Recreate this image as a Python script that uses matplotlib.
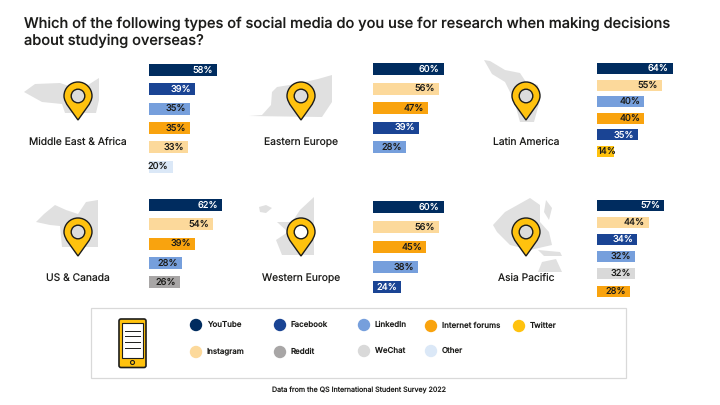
import matplotlib
matplotlib.use('Agg')
import matplotlib.pyplot as plt
from matplotlib.patches import Circle, Polygon, Rectangle, FancyBboxPatch, PathPatch
from matplotlib.path import Path

plt.rcParams['font.family'] = ['Inter', 'DejaVu Sans']
plt.rcParams['text.hinting'] = 'none'

W, H = 720, 405
DARK = '#1d1d1b'

COLORS = {'YouTube': '#002c5f', 'Facebook': '#1a4494', 'LinkedIn': '#769fdc',
          'Internet forums': '#f9a30e', 'Twitter': '#ffc20e', 'Instagram': '#fcd99b',
          'Reddit': '#a8a6a6', 'WeChat': '#d9d9d9', 'Other': '#dbe8f7'}

# data per region
mea_cats = ['YouTube', 'Facebook', 'LinkedIn', 'Internet forums', 'Instagram', 'Other']
mea_vals = [58, 39, 35, 35, 33, 20]
ee_cats = ['YouTube', 'Instagram', 'Internet forums', 'Facebook', 'LinkedIn']
ee_vals = [60, 56, 47, 39, 28]
la_cats = ['YouTube', 'Instagram', 'LinkedIn', 'Internet forums', 'Facebook', 'Twitter']
la_vals = [64, 55, 40, 40, 35, 14]
us_cats = ['YouTube', 'Instagram', 'Internet forums', 'LinkedIn', 'Reddit']
us_vals = [62, 54, 39, 28, 26]
we_cats = ['YouTube', 'Instagram', 'Internet forums', 'LinkedIn', 'Facebook']
we_vals = [60, 56, 45, 38, 24]
ap_cats = ['YouTube', 'Instagram', 'Facebook', 'LinkedIn', 'WeChat', 'Internet forums']
ap_vals = [57, 44, 34, 32, 32, 28]

# name, cats, vals, bar x0, first centre, spacing, bar height, pin x, pin top, inner colour
panels = [
    ('Middle East & Africa', mea_cats, mea_vals, 149, 70, 19.3, 12, 78, 82, '#dcdcdc'),
    ('Eastern Europe', ee_cats, ee_vals, 373, 69, 19.5, 12, 301, 82, '#dcdcdc'),
    ('Latin America', la_cats, la_vals, 597, 68.5, 16.6, 11, 526, 82, '#dcdcdc'),
    ('US & Canada', us_cats, us_vals, 149, 205, 19.3, 12, 78, 218, '#dcdcdc'),
    ('Western Europe', we_cats, we_vals, 373, 207, 20, 12, 301, 218, '#ffffff'),
    ('Asia Pacific', ap_cats, ap_vals, 597, 205, 17.2, 11, 526, 218, '#dcdcdc'),
]

# rough grey map silhouettes
maps = [
    [(24, 92), (35, 84), (60, 83), (72, 87), (88, 85), (99, 78), (99, 100), (96, 113), (65, 113), (62, 104), (42, 102)],
    [(249, 116), (262, 115), (271, 105), (272, 92), (277, 87), (296, 84), (318, 79), (332, 75), (332, 102), (322, 117)],
    [(484, 60), (490, 61), (505, 70), (520, 73), (526, 82), (538, 85), (540, 100), (534, 122), (520, 122), (514, 100), (505, 82), (492, 74)],
    [(36, 222), (44, 214), (55, 205), (66, 210), (78, 214), (86, 202), (98, 200), (98, 247), (62, 247), (60, 226), (50, 225)],
    [(277, 222), (292, 222), (300, 210), (314, 197), (314, 255), (282, 255), (276, 240), (288, 232)],
    [(259, 207), (266, 205), (272, 208), (266, 213), (260, 212)],
    [(493, 225), (505, 212), (530, 198), (540, 205), (540, 222), (549, 232), (552, 245), (530, 250), (510, 245), (497, 232)],
    [(546, 200), (552, 208), (549, 220), (544, 212)],
    [(538, 250), (560, 252), (562, 256), (544, 256)],
    [(542, 262), (556, 259), (562, 272), (538, 272)],
]

fig = plt.figure(figsize=(W / 100, H / 100), dpi=100)
bg = fig.add_axes([0, 0, 1, 1])
bg.set_xlim(0, W)
bg.set_ylim(H, 0)
bg.axis('off')

bg.text(24, 23.5, 'Which of the following types of social media do you use for research when making decisions',
        fontsize=10.5, weight='medium', color=DARK, va='center')
bg.text(24, 41, 'about studying overseas?', fontsize=10.5, weight='medium', color=DARK, va='center')


def draw_pin(cx, top, inner):
    r = 14
    cy = top + r
    tip = top + 38
    k = 0.5523 * r
    verts = [(cx, tip), (cx - 6, tip - 9), (cx - r, cy + 7), (cx - r, cy),
             (cx - r, cy - k), (cx - k, top), (cx, top),
             (cx + k, top), (cx + r, cy - k), (cx + r, cy),
             (cx + r, cy + 7), (cx + 6, tip - 9), (cx, tip), (cx, tip)]
    codes = [Path.MOVETO] + [Path.CURVE4] * 12 + [Path.CLOSEPOLY]
    bg.add_patch(PathPatch(Path(verts, codes), fc='#ffc20e', ec=DARK, lw=1, zorder=3))
    bg.add_patch(Circle((cx, cy), 6.8, fc=inner, ec=DARK, lw=1, zorder=4))


for poly in maps:
    bg.add_patch(Polygon(poly, fc='#e0e0e0', ec='none', zorder=1))

for name, cats, vals, x0, c0, step, bar_h, pin_x, pin_top, inner in panels:
    draw_pin(pin_x, pin_top, inner)
    bg.text(pin_x, pin_top + 60.5, name, ha='center', va='center', fontsize=7.4, color=DARK)

    n = len(vals)
    top = c0 - step / 2
    ax = fig.add_axes([x0 / W, 1 - (top + n * step) / H, 118 / W, n * step / H])
    ax.patch.set_alpha(0)
    ypos = list(range(n))
    ax.barh(ypos, vals, height=bar_h / step, color=[COLORS[c] for c in cats])
    ax.set_xlim(0, 100)
    ax.set_ylim(n - 0.5, -0.5)
    ax.axis('off')
    for y, v, c in zip(ypos, vals, cats):
        txt = 'white' if c in ('YouTube', 'Facebook') else DARK
        off = 3 if v < 15 else -4
        ax.annotate(f'{v}%', (v, y), xytext=(off * 0.72, 0), textcoords='offset points',
                    ha='right', va='center', fontsize=6.7, color=txt)

# legend box
bg.add_patch(Rectangle((91, 308), 534.5, 69.5, fc='white', ec='#d9d9d9', lw=0.9, zorder=1))

# phone icon
bg.add_patch(FancyBboxPatch((119, 319), 27, 48.5, boxstyle='round,pad=0,rounding_size=2',
                            fc='#ffc20e', ec=DARK, lw=1.2, zorder=2))
bg.add_patch(Rectangle((122, 323), 21, 35, fc='white', ec=DARK, lw=0.8, zorder=3))
for ly in (330.5, 336, 342, 348):
    bg.plot([125, 140], [ly, ly], color=DARK, lw=0.7, zorder=4)
bg.add_patch(Circle((132.5, 362.5), 2, fc='#ffc20e', ec=DARK, lw=0.8, zorder=4))

legend_names = ['YouTube', 'Facebook', 'LinkedIn', 'Internet forums', 'Twitter',
                'Instagram', 'Reddit', 'WeChat', 'Other']
legend_x = [196, 280, 364, 431, 519, 196, 280, 364, 431]
legend_y = [325, 325, 325, 326, 326, 352, 352, 351, 351]
for name, lx, ly in zip(legend_names, legend_x, legend_y):
    bg.add_patch(Circle((lx, ly), 6.2, fc=COLORS[name], ec='none', zorder=3))
    bg.text(lx + 11, ly - 0.5, name, fontsize=5.7, weight='medium', color=DARK, va='center')

bg.text(358.5, 390, 'Data from the QS International Student Survey 2022', fontsize=5.1,
        ha='center', va='center', color=DARK)

fig.savefig('out.png', dpi=100)
